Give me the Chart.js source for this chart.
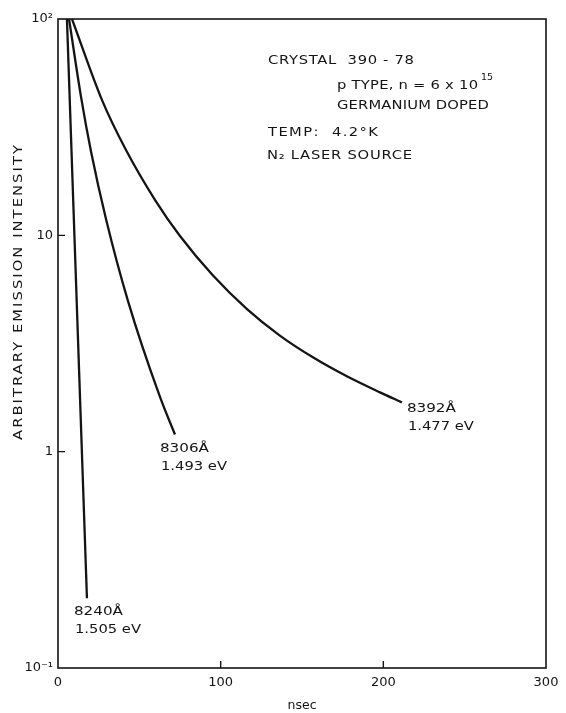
<!DOCTYPE html>
<html>
<head>
<meta charset="utf-8">
<script src="https://cdn.jsdelivr.net/npm/chart.js@4/dist/chart.umd.min.js"></script>
<style>
  html, body { margin: 0; padding: 0; background: #fff; }
  #wrap { width: 566px; height: 713px; position: relative; }
</style>
</head>
<body>
<div id="wrap"><canvas id="c"></canvas></div>
<script>
// Axis ticks
const timeTicks = [0, 100, 200, 300];
const timeTickLabels = ['0', '100', '200', '300'];
const intensityTicks = [0.1, 1, 10, 100];
const intensityTickLabels = ['10\u207B\u00B9', '1', '10', '10\u00B2'];

// Decay curves: time (nsec) and emission intensity
const t8240 = [5.5, 17.8];
const i8240 = [100, 0.21];
const t8306 = [6.8, 14.1, 20.3, 29.5, 43.0, 62.7, 71.9];
const i8306 = [100, 43.9, 24.4, 11.9, 4.98, 1.79, 1.20];
const t8392 = [8.6, 27.0, 41.8, 59.6, 75.0, 95.3, 116.2, 136.4, 156.7, 177.6, 197.9, 211.4];
const i8392 = [100, 42.3, 24.8, 14.6, 9.93, 6.52, 4.56, 3.44, 2.73, 2.23, 1.88, 1.69];

const lineWavelengths = ['8240\u00C5', '8306\u00C5', '8392\u00C5'];
const lineEnergies = ['1.505 eV', '1.493 eV', '1.477 eV'];

const INK = '#141414';
const FONT = '"DejaVu Sans", sans-serif';

function toPoints(xs, ys) { return xs.map((x, k) => ({ x: x, y: ys[k] })); }

// Draw lettering widened to span a given width: stretch glyphs a little,
// then make up the rest with letter spacing
function spacedText(ctx, text, x, y, width) {
  ctx.letterSpacing = '0px';
  const natural = ctx.measureText(text).width;
  const sx = Math.max(0.85, Math.min(width / natural, 1.18));
  const n = [...text].length;
  const sp = n > 1 ? (width / sx - natural) / (n - 1) : 0;
  ctx.save();
  ctx.translate(x, y);
  ctx.scale(sx, 1);
  ctx.letterSpacing = sp.toFixed(2) + 'px';
  ctx.fillText(text, 0, 0);
  ctx.restore();
  ctx.letterSpacing = '0px';
}

const decorations = {
  id: 'decorations',
  afterDraw(chart) {
    const { ctx, chartArea: a, scales } = chart;
    const xs = scales.x, ys = scales.y;
    ctx.save();
    ctx.strokeStyle = INK;
    ctx.fillStyle = INK;

    // frame
    ctx.lineWidth = 1.6;
    ctx.strokeRect(a.left, a.top, a.right - a.left, a.bottom - a.top);

    // inward tick marks on interior ticks
    ctx.lineWidth = 1.4;
    ctx.beginPath();
    timeTicks.slice(1, -1).forEach(v => {
      const px = xs.getPixelForValue(v);
      ctx.moveTo(px, a.bottom); ctx.lineTo(px, a.bottom - 7);
    });
    intensityTicks.slice(1, -1).forEach(v => {
      const py = ys.getPixelForValue(v);
      ctx.moveTo(a.left, py); ctx.lineTo(a.left + 7, py);
    });
    ctx.stroke();

    // y axis title
    ctx.font = '12.5px ' + FONT;
    ctx.textBaseline = 'middle';
    ctx.textAlign = 'left';
    ctx.save();
    ctx.translate(19, 440);
    ctx.rotate(-Math.PI / 2);
    spacedText(ctx, 'ARBITRARY EMISSION INTENSITY', 0, 0, 295);
    ctx.restore();

    // sample description block
    ctx.textBaseline = 'alphabetic';
    ctx.font = '12.5px ' + FONT;
    spacedText(ctx, 'CRYSTAL  390 - 78', 268, 64, 146);
    spacedText(ctx, 'p TYPE, n = 6 x 10', 337, 89, 141);
    ctx.font = '9px ' + FONT;
    spacedText(ctx, '15', 481, 80, 12);
    ctx.font = '12.5px ' + FONT;
    spacedText(ctx, 'GERMANIUM DOPED', 337, 109, 152);
    spacedText(ctx, 'TEMP:  4.2\u00B0K', 268, 136, 110);
    spacedText(ctx, 'N\u2082 LASER SOURCE', 267, 159, 145);

    // curve end labels, anchored to each curve's final point
    const ends = [
      { t: t8240, i: i8240, dx: -13, dy: 17 },
      { t: t8306, i: i8306, dx: -15, dy: 17 },
      { t: t8392, i: i8392, dx: 5, dy: 10 }
    ];
    ctx.font = '13px ' + FONT;
    ends.forEach((e, k) => {
      const n = e.t.length - 1;
      const px = xs.getPixelForValue(e.t[n]);
      const py = ys.getPixelForValue(e.i[n]);
      spacedText(ctx, lineWavelengths[k], px + e.dx, py + e.dy, 49);
      spacedText(ctx, lineEnergies[k], px + e.dx + 1, py + e.dy + 18, 66);
    });

    ctx.restore();
  }
};

const lineStyle = {
  borderColor: INK,
  borderWidth: 2.3,
  pointRadius: 0,
  fill: false,
  cubicInterpolationMode: 'monotone'
};

new Chart(document.getElementById('c'), {
  type: 'line',
  data: {
    datasets: [
      Object.assign({ label: lineWavelengths[0], data: toPoints(t8240, i8240) }, lineStyle),
      Object.assign({ label: lineWavelengths[1], data: toPoints(t8306, i8306) }, lineStyle),
      Object.assign({ label: lineWavelengths[2], data: toPoints(t8392, i8392) }, lineStyle)
    ]
  },
  options: {
    responsive: true,
    maintainAspectRatio: false,
    animation: false,
    layout: { padding: { top: 19, right: 20, left: 0, bottom: 0 } },
    plugins: { legend: { display: false }, tooltip: { enabled: false } },
    scales: {
      x: {
        type: 'linear',
        min: 0, max: 300,
        afterBuildTicks: s => { s.ticks = timeTicks.map(v => ({ value: v })); },
        afterFit: s => { s.height = 45; },
        grid: { display: false, drawTicks: false },
        border: { display: false },
        ticks: {
          autoSkip: false, maxRotation: 0, padding: 7,
          color: INK, font: { family: FONT, size: 13 },
          callback: v => timeTickLabels[timeTicks.indexOf(v)]
        },
        title: {
          display: true, text: 'nsec', color: INK,
          font: { family: FONT, size: 12.5 }, padding: { top: 0, bottom: 0 }
        }
      },
      y: {
        type: 'logarithmic',
        min: 0.1, max: 100,
        afterBuildTicks: s => { s.ticks = intensityTicks.map(v => ({ value: v })); },
        afterFit: s => { s.width = 58; },
        grid: { display: false, drawTicks: false },
        border: { display: false },
        ticks: {
          autoSkip: false, padding: 5,
          color: INK, font: { family: FONT, size: 13 },
          callback: v => intensityTickLabels[intensityTicks.indexOf(v)]
        }
      }
    }
  },
  plugins: [decorations]
});
</script>
</body>
</html>
